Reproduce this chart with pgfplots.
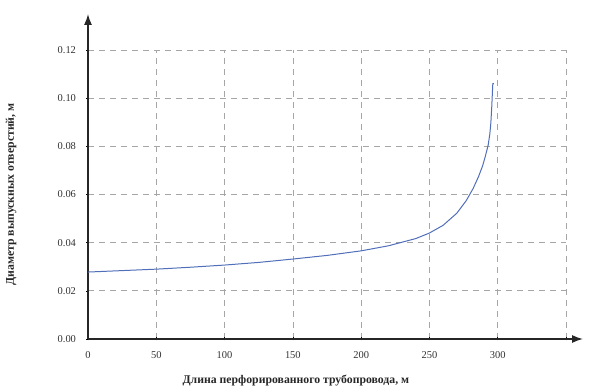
\documentclass[border=0pt]{standalone}
\usepackage{fontspec}
\setmainfont{Liberation Serif}
\usepackage{pgfplots}
\pgfplotsset{compat=1.18}
\usetikzlibrary{arrows.meta}
\definecolor{curve}{RGB}{80,110,185}
\begin{document}
\begin{tikzpicture}
\begin{axis}[
  scale only axis,
  width=478bp, height=289bp,
  xmin=0, xmax=350, ymin=0, ymax=0.12,
  axis lines=left,
  x axis line style={line width=1.4pt, black!85, -{Latex[length=11bp,width=8bp]}, shorten >=-17bp},
  y axis line style={line width=1.4pt, black!85, -{Latex[length=11bp,width=8bp]}, shorten >=-36bp},
  xtick={0,50,...,350},
  xticklabels={0,50,100,150,200,250,300,},
  ytick={0,0.02,0.04,0.06,0.08,0.10,0.12},
  yticklabel={\pgfmathprintnumber[fixed,fixed zerofill,precision=2,assume math mode=true]{\tick}},
  /pgf/number format/assume math mode=true,
  tick label style={font=\fontsize{10.5}{12}\selectfont, black!80},
  xticklabel style={yshift=-8bp},
  yticklabel style={xshift=-7bp},
  tick style={black, line width=0.6pt},
  major tick length=3bp,
  tick align=center,
  grid=major,
  grid style={gray!70, dash pattern=on 6bp off 5bp, line width=0.7pt},
  xlabel={\bfseries\fontsize{11.8}{13}\selectfont Длина перфорированного трубопровода, м},
  ylabel={\bfseries\fontsize{11.8}{13}\selectfont Диаметр выпускных отверстий, м},
  xlabel style={at={(axis description cs:0.435,0)}, anchor=north, yshift=-33bp, black!85},
  ylabel style={at={(axis description cs:0,0.5)}, anchor=south, yshift=68bp, black!85},
  clip=false,
]
\addplot[curve, line width=1pt] coordinates {
(0,0.0278) (25,0.0284) (50,0.0290) (75,0.0298) (100,0.0307) (125,0.0318)
(150,0.0332) (175,0.0347) (200,0.0366) (220,0.0387) (240,0.0417) (250,0.0440)
(260,0.0472) (270,0.0522) (277,0.0575) (282,0.0625) (286,0.0675) (289,0.0720)
(291,0.0760) (293,0.0805) (294.2,0.0850) (295,0.0900) (295.6,0.0960)
(296,0.1010) (296.4,0.1060) (297.2,0.1060)
};
\coordinate (O) at (axis cs:0,0);
\end{axis}
\path ([xshift=-88bp,yshift=-49bp]O) rectangle ([xshift=505bp,yshift=339bp]O);
\end{tikzpicture}
\end{document}
